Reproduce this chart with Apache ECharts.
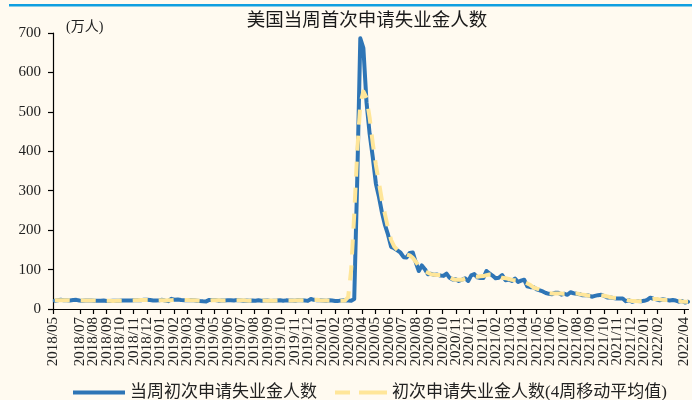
<!DOCTYPE html>
<html>
<head>
<meta charset="utf-8">
<script src="https://cdn.jsdelivr.net/npm/echarts@6/dist/echarts.min.js"></script>
<style>
  html, body { margin: 0; padding: 0; background: #fffaf0; }
  #chart { width: 692px; height: 400px; }
</style>
</head>
<body>
<div id="chart"></div>
<script>
// Weekly initial jobless claims (10k persons), weeks ending on Saturdays from 2018-05-05
const firstWeek = [2018, 5, 5];

const claims2018 = [21.1, 22.3, 23.4, 22.1, 22.2, 21.8, 22.8, 23.2, 21.5, 20.8, 21.8, 21.7, 21.4, 21.0, 21.2, 20.9, 21.5, 20.4, 20.2, 21.0, 20.8, 20.7, 21.5, 21.6, 21.3, 21.5, 22.1, 22.5, 22.4, 23.5, 23.4, 22.7, 21.4, 21.8, 22.1];
const claims2019 = [23.2, 21.3, 19.9, 25.8, 23.4, 23.9, 22.6, 22.5, 22.3, 22.9, 22.1, 21.2, 20.2, 19.6, 19.3, 23.0, 23.0, 22.8, 21.2, 21.5, 21.8, 22.0, 22.3, 21.7, 22.8, 22.2, 20.9, 21.7, 20.7, 21.6, 21.0, 22.2, 21.0, 21.5, 21.8, 20.6, 21.1, 21.4, 22.0, 21.0, 21.9, 21.3, 21.8, 21.1, 22.7, 22.4, 21.5, 20.6, 25.4, 23.2, 22.3, 22.2];
const claims2020 = [21.6, 20.7, 22.3, 21.6, 20.5, 20.6, 21.4, 21.9, 21.7, 21.1, 25.6, 330.7, 686.7, 661.5, 524.4, 444.2, 384.6, 317.4, 284.5, 244.6, 212.6, 188.5, 157.7, 154.0, 148.5, 142.7, 131.5, 130.7, 142.2, 143.4, 118.6, 96.3, 110.6, 101.1, 88.1, 89.3, 86.6, 87.3, 84.9, 84.0, 89.8, 79.1, 75.1, 75.7, 71.1, 74.2, 77.8, 71.2, 85.3, 88.5, 80.3, 78.7];
const claims2021 = [78.7, 96.5, 90.0, 84.7, 77.9, 79.3, 86.1, 73.0, 74.5, 71.2, 77.0, 68.4, 71.9, 74.4, 57.6, 55.3, 55.3, 49.8, 47.3, 44.4, 40.6, 38.5, 37.6, 41.2, 41.1, 36.4, 38.6, 36.0, 42.4, 40.0, 38.5, 37.5, 34.8, 35.3, 34.0, 31.2, 33.2, 35.1, 36.2, 32.9, 29.3, 29.0, 28.1, 26.7, 26.7, 26.8, 19.9, 22.2, 18.4, 20.6, 20.5, 19.8];
const claims2022 = [20.7, 23.0, 28.6, 26.0, 24.5, 22.3, 24.8, 23.2, 21.5, 22.7, 21.4, 18.7, 20.2, 16.6, 18.5];

// 4-week moving average, same weeks
const avg2018 = [22.0, 22.2, 22.2, 22.5, 22.4, 22.2, 22.5, 22.3, 22.1, 21.8, 21.5, 21.4, 21.5, 21.3, 21.1, 21.2, 21.0, 20.8, 20.8, 20.6, 20.7, 21.0, 21.2, 21.3, 21.5, 21.6, 21.9, 22.1, 22.6, 23.0, 23.0, 22.8, 22.3, 22.0, 22.1];
const avg2019 = [22.1, 21.6, 22.4, 22.5, 23.1, 23.8, 23.1, 22.8, 22.6, 22.5, 22.1, 21.6, 20.8, 20.1, 20.5, 21.2, 22.0, 22.5, 22.1, 21.8, 21.6, 21.9, 22.0, 22.2, 22.3, 21.9, 21.9, 21.4, 21.2, 21.3, 21.4, 21.5, 21.4, 21.6, 21.2, 21.3, 21.2, 21.3, 21.4, 21.6, 21.6, 21.5, 21.5, 21.7, 22.0, 21.9, 21.8, 22.5, 22.7, 22.9, 23.3, 22.3];
const avg2020 = [21.7, 21.7, 21.6, 21.3, 21.3, 21.0, 21.1, 21.4, 30, 100, 240, 400, 520, 552, 535, 485, 420, 365, 320, 275, 240, 205, 175, 158, 150, 145, 141, 138, 136, 130, 120, 110, 101, 96, 92, 88, 87, 86, 86, 85, 82, 80, 76, 74, 74, 74, 77, 80, 82, 83, 82, 83];
const avg2021 = [83.6, 86.0, 87.5, 87.3, 83.0, 82.0, 79.1, 78.2, 76.2, 73.9, 72.8, 72.1, 72.9, 68.1, 64.8, 60.7, 54.5, 51.9, 49.2, 45.5, 42.7, 40.3, 39.5, 39.6, 39.1, 39.3, 38.0, 38.4, 39.3, 39.2, 39.6, 37.7, 36.5, 35.4, 33.8, 33.4, 33.4, 33.9, 34.4, 33.4, 31.9, 29.8, 28.3, 27.6, 27.1, 25.0, 23.9, 21.8, 20.3, 20.4, 19.8, 20.4];
const avg2022 = [21.0, 23.0, 24.6, 25.5, 25.4, 24.4, 23.7, 23.0, 23.1, 22.2, 21.1, 20.8, 19.2, 18.5, 18.3];

// Month tick labels along the x axis
const monthLabels = [
  '2018/05','2018/06','2018/07','2018/08','2018/09','2018/10','2018/11','2018/12',
  '2019/01','2019/02','2019/03','2019/04','2019/05','2019/06','2019/07','2019/08','2019/09','2019/10','2019/11','2019/12',
  '2020/01','2020/02','2020/03','2020/04','2020/05','2020/06','2020/07','2020/08','2020/09','2020/10','2020/11','2020/12',
  '2021/01','2021/02','2021/03','2021/04','2021/05','2021/06','2021/07','2021/08','2021/09','2021/10','2021/11','2021/12',
  '2022/01','2022/02','2022/03','2022/04'
];

const seriesNames = ['当周初次申请失业金人数', '初次申请失业金人数(4周移动平均值)'];

const claims = [].concat(claims2018, claims2019, claims2020, claims2021, claims2022);
const avg4w = [].concat(avg2018, avg2019, avg2020, avg2021, avg2022);

// Position of a date on the month axis: whole months since 2018/05 plus the fraction of the month
const DAY = 86400000;
const start = Date.UTC(firstWeek[0], firstWeek[1] - 1, firstWeek[2]);
function monthPos(t) {
  const d = new Date(t);
  const y = d.getUTCFullYear(), m = d.getUTCMonth();
  const dim = new Date(Date.UTC(y, m + 1, 0)).getUTCDate();
  return (y - 2018) * 12 + (m - 4) + (d.getUTCDate() - 1) / dim;
}
const weekPos = claims.map((_, i) => monthPos(start + i * 7 * DAY));
const tickPos = monthLabels.map((_, i) => i);

const serif = '"Liberation Serif", "Times New Roman", serif';
const cjk = '"Liberation Serif", "Noto Sans CJK SC", serif';

const BLUE = '#2e75b6';
const YELLOW = '#ffe699';

const chart = echarts.init(document.getElementById('chart'), null, { renderer: 'canvas' });
chart.setOption({
  backgroundColor: '#fffaf0',
  animation: false,
  graphic: [
    { type: 'rect', left: 9, top: 4, shape: { width: 683, height: 2.5 }, style: { fill: '#109fe0' } },
    { type: 'text', x: 367, y: 21, style: { text: '美国当周首次申请失业金人数', font: '18.5px ' + cjk, fill: '#1a1a1a', align: 'center', verticalAlign: 'middle' } },
    { type: 'text', x: 66, y: 27, style: { text: '(万人)', font: '14px ' + cjk, fill: '#222', align: 'left', verticalAlign: 'middle' } }
  ],
  legend: {
    left: 68,
    top: 379,
    itemWidth: 52,
    itemHeight: 4,
    itemGap: 18,
    textStyle: { fontFamily: cjk, fontSize: 17, color: '#222' },
    data: [
      { name: seriesNames[0], icon: 'path://M0,0H52V4H0Z', itemStyle: { color: BLUE } },
      { name: seriesNames[1], icon: 'path://M0,0H15V4H0Z M24,0H52V4H24Z', itemStyle: { color: YELLOW } }
    ]
  },
  grid: { left: 53, right: 0, top: 33, bottom: 91, containLabel: false },
  xAxis: {
    type: 'value',
    min: 0,
    max: 47.3,
    axisLine: { show: true, lineStyle: { color: '#000', width: 1.2 } },
    axisTick: { show: true, length: 5, customValues: tickPos, lineStyle: { color: '#000', width: 1.2 } },
    axisLabel: {
      customValues: tickPos,
      showMinLabel: true,
      showMaxLabel: true,
      hideOverlap: false,
      rotate: 90,
      margin: 8,
      fontFamily: serif,
      fontSize: 15,
      color: '#222',
      formatter: v => monthLabels[Math.round(v)] || ''
    },
    splitLine: { show: false }
  },
  yAxis: {
    type: 'value',
    min: 0,
    max: 700,
    interval: 100,
    axisLine: { show: true, lineStyle: { color: '#000', width: 1.2 } },
    axisTick: { show: true, length: 5, lineStyle: { color: '#000', width: 1.2 } },
    axisLabel: { margin: 12, fontFamily: serif, fontSize: 15, color: '#222' },
    splitLine: { show: false }
  },
  series: [
    {
      name: seriesNames[0],
      type: 'line',
      showSymbol: false,
      symbol: 'none',
      data: claims.map((v, i) => [weekPos[i], v]),
      lineStyle: { color: BLUE, width: 4, join: 'round', cap: 'round' },
      itemStyle: { color: BLUE },
      z: 2
    },
    {
      name: seriesNames[1],
      type: 'line',
      showSymbol: false,
      symbol: 'none',
      data: avg4w.map((v, i) => [weekPos[i], v]),
      lineStyle: { color: YELLOW, width: 4, type: [15, 11], join: 'round' },
      itemStyle: { color: YELLOW },
      z: 3
    }
  ]
});
</script>
</body>
</html>
